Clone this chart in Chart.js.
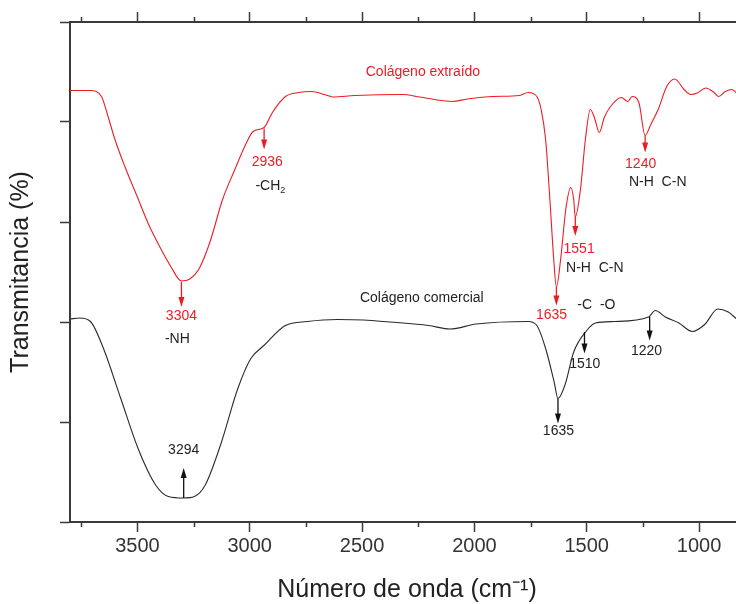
<!DOCTYPE html>
<html>
<head>
<meta charset="utf-8">
<script src="https://cdn.jsdelivr.net/npm/chart.js@4.4.1/dist/chart.umd.min.js"></script>
<style>
  html, body { margin: 0; padding: 0; background: #fff; overflow: hidden; }
  canvas { display: block; }
</style>
</head>
<body>
<canvas id="ftir" width="760" height="604"></canvas>
<script>
// espectros FTIR (numero de onda en cm-1, transmitancia relativa)
const redWave = [3800, 3710, 3660, 3630, 3600, 3555, 3500, 3450, 3400, 3350,
  3304, 3266, 3226, 3177, 3121, 3072, 3014, 2985, 2936, 2899,
  2841, 2783, 2725, 2667, 2630, 2532, 2320, 2243, 2098, 2031,
  1915, 1799, 1761, 1722, 1703, 1683, 1664, 1647, 1635, 1616,
  1593, 1571, 1558, 1551, 1528, 1506, 1484, 1466, 1444, 1422,
  1394, 1346, 1317, 1298, 1268, 1240, 1215, 1182, 1144, 1108,
  1067, 1037, 1008, 970, 931, 913, 883, 855, 819, 800];
const redTrans = [86.3, 86.3, 85.1, 81.0, 76.5, 71.0, 65.0, 59.5, 55.0, 51.0,
  48.2, 48.6, 50.6, 56.0, 64.5, 69.9, 75.9, 78.1, 78.9, 81.9,
  85.1, 85.9, 86.1, 85.5, 85.0, 85.3, 85.5, 85.0, 84.1, 84.6,
  85.1, 85.3, 85.9, 85.1, 82.5, 76.5, 64.5, 52.6, 47.0, 52.6,
  62.6, 66.9, 64.5, 61.0, 66.5, 76.5, 82.5, 80.9, 77.9, 80.9,
  83.1, 84.9, 84.1, 85.1, 83.9, 77.3, 79.5, 82.5, 87.1, 88.6,
  86.5, 85.5, 85.8, 86.8, 85.8, 85.1, 86.1, 86.5, 85.1, 84.6];

const blackWave = [3800, 3757, 3709, 3651, 3574, 3497, 3419, 3362, 3294, 3246,
  3198, 3130, 3053, 2995, 2937, 2841, 2744, 2610, 2493, 2378,
  2204, 2108, 1992, 1761, 1722, 1683, 1645, 1628, 1597, 1558,
  1500, 1461, 1375, 1225, 1195, 1150, 1090, 1030, 975, 917,
  870, 830, 800];
const blackTrans = [40.6, 40.8, 40.1, 34.7, 24.7, 14.7, 7.4, 5.1, 4.8, 5.1,
  7.4, 15.4, 26.7, 32.7, 35.3, 39.3, 40.1, 40.5, 40.4, 40.0,
  39.3, 38.6, 39.6, 40.1, 39.3, 34.7, 28.0, 24.7, 27.4, 34.0,
  38.3, 39.8, 40.1, 41.0, 42.3, 41.0, 39.8, 38.1, 39.5, 42.6,
  42.0, 40.5, 39.5];

const xTicks = [3500, 3000, 2500, 2000, 1500, 1000];
const minorTicks = [3750, 3250, 2750, 2250, 1750, 1250];

const RED = '#ec1c24';
const INK = '#222';
const AXIS = '#3a3a3a';
const FONT = "'Liberation Sans', Arial, sans-serif";

// flechas de las bandas: numero de onda, desde (curva) hasta (punta)
const marks = [
  { x: 3304, from: 48.0, to: 43.0, color: RED },
  { x: 2936, from: 78.7, to: 74.5, color: RED },
  { x: 1635, from: 47.0, to: 43.3, color: RED },
  { x: 1551, from: 61.0, to: 57.2, color: RED },
  { x: 1240, from: 77.3, to: 73.9, color: RED },
  { x: 3294, from: 4.8, to: 10.8, color: '#111' },
  { x: 1628, from: 24.7, to: 19.7, color: '#111' },
  { x: 1510, from: 38.0, to: 33.7, color: '#111' },
  { x: 1220, from: 41.0, to: 36.3, color: '#111' }
];

const notes = [
  { x: 2229, y: 90.0, text: 'Colágeno extraído', color: RED },
  { x: 2234, y: 44.8, text: 'Colágeno comercial', color: INK },
  { x: 3304, y: 41.2, text: '3304', color: RED },
  { x: 3322, y: 36.5, text: '-NH', color: INK },
  { x: 2922, y: 71.9, text: '2936', color: RED },
  { x: 2908, y: 67.1, text: '-CH', sub: '2', color: INK },
  { x: 1657, y: 41.4, text: '1635', color: RED },
  { x: 1457, y: 43.4, text: '-C  -O', color: INK },
  { x: 1534, y: 54.6, text: '1551', color: RED },
  { x: 1464, y: 50.8, text: 'N-H  C-N', color: INK },
  { x: 1260, y: 71.5, text: '1240', color: RED },
  { x: 1184, y: 67.9, text: 'N-H  C-N', color: INK },
  { x: 3294, y: 14.3, text: '3294', color: INK },
  { x: 1626, y: 18.1, text: '1635', color: INK },
  { x: 1509, y: 31.5, text: '1510', color: INK },
  { x: 1234, y: 34.1, text: '1220', color: INK }
];

const toPoints = (w, t) => w.map((v, i) => ({ x: v, y: t[i] }));

const extras = {
  id: 'extras',
  afterDatasetsDraw(chart) {
    const { ctx, chartArea: a, scales: { x, y } } = chart;
    ctx.save();

    // ticks menores arriba y abajo
    ctx.strokeStyle = AXIS;
    ctx.lineWidth = 1.5;
    minorTicks.forEach(v => {
      const px = Math.round(x.getPixelForValue(v)) + 0.5;
      ctx.beginPath();
      ctx.moveTo(px, a.bottom); ctx.lineTo(px, a.bottom + 5);
      ctx.moveTo(px, a.top); ctx.lineTo(px, a.top - 5);
      ctx.stroke();
    });

    // flechas
    marks.forEach(m => {
      const px = x.getPixelForValue(m.x);
      const y0 = y.getPixelForValue(m.from);
      const y1 = y.getPixelForValue(m.to);
      const dir = y1 > y0 ? 1 : -1;
      ctx.strokeStyle = m.color;
      ctx.fillStyle = m.color;
      ctx.lineWidth = 1.3;
      ctx.beginPath();
      ctx.moveTo(px, y0); ctx.lineTo(px, y1 - dir * 4);
      ctx.stroke();
      ctx.beginPath();
      ctx.moveTo(px, y1);
      ctx.lineTo(px - 3, y1 - dir * 10);
      ctx.lineTo(px + 3, y1 - dir * 10);
      ctx.closePath();
      ctx.fill();
    });

    // textos
    ctx.textBaseline = 'middle';
    notes.forEach(n => {
      const px = x.getPixelForValue(n.x);
      const py = y.getPixelForValue(n.y);
      ctx.fillStyle = n.color;
      ctx.font = '14px ' + FONT;
      if (n.sub) {
        const w1 = ctx.measureText(n.text).width;
        ctx.font = '9px ' + FONT;
        const w2 = ctx.measureText(n.sub).width;
        const left = px - (w1 + w2) / 2;
        ctx.textAlign = 'left';
        ctx.font = '14px ' + FONT;
        ctx.fillText(n.text, left, py);
        ctx.font = '9px ' + FONT;
        ctx.fillText(n.sub, left + w1, py + 4);
      } else {
        ctx.textAlign = 'center';
        ctx.fillText(n.text, px, py);
      }
    });
    ctx.restore();
  }
};

new Chart(document.getElementById('ftir'), {
  type: 'line',
  data: {
    datasets: [
      {
        label: 'Colágeno extraído',
        data: toPoints(redWave, redTrans),
        borderColor: RED,
        borderWidth: 1.1,
        pointRadius: 0,
        cubicInterpolationMode: 'monotone'
      },
      {
        label: 'Colágeno comercial',
        data: toPoints(blackWave, blackTrans),
        borderColor: '#2a2a2a',
        borderWidth: 1.1,
        pointRadius: 0,
        cubicInterpolationMode: 'monotone'
      }
    ]
  },
  options: {
    responsive: false,
    animation: false,
    devicePixelRatio: 1,
    layout: { padding: { left: 0, right: 6, top: 12, bottom: 0 } },
    plugins: { legend: { display: false }, tooltip: { enabled: false } },
    scales: {
      x: {
        type: 'linear',
        position: 'bottom',
        reverse: true,
        min: 800,
        max: 3800,
        afterBuildTicks: s => { s.ticks = xTicks.map(v => ({ value: v })); },
        ticks: {
          color: '#333',
          font: { family: FONT, size: 20 },
          padding: 2,
          maxRotation: 0,
          callback: v => String(v)
        },
        grid: { drawOnChartArea: false, tickLength: 10, tickColor: AXIS, tickWidth: 1.5 },
        border: { color: AXIS, width: 2 },
        title: {
          display: true,
          text: 'Número de onda (cm⁻¹)',
          color: INK,
          font: { family: FONT, size: 25, lineHeight: 1.1 },
          padding: { top: 16.5, bottom: 0 }
        }
      },
      xTop: {
        type: 'linear',
        position: 'top',
        reverse: true,
        min: 800,
        max: 3800,
        afterBuildTicks: s => { s.ticks = xTicks.map(v => ({ value: v })); },
        ticks: { display: false },
        grid: { drawOnChartArea: false, tickLength: 10, tickColor: AXIS, tickWidth: 1.5 },
        border: { color: AXIS, width: 2 }
      },
      y: {
        position: 'left',
        min: 0,
        max: 100,
        ticks: { display: false, stepSize: 20 },
        grid: { drawOnChartArea: false, tickLength: 10, tickColor: AXIS, tickWidth: 1.5 },
        border: { color: AXIS, width: 2 },
        title: {
          display: true,
          text: 'Transmitancia (%)',
          color: INK,
          font: { family: FONT, size: 25, lineHeight: 1.1 },
          padding: { top: 7.25, bottom: 25.25 }
        }
      },
      yRight: {
        position: 'right',
        min: 0,
        max: 100,
        ticks: { display: false, stepSize: 20 },
        grid: { drawOnChartArea: false, tickLength: 10, tickColor: AXIS, tickWidth: 1.5 },
        border: { color: AXIS, width: 2 }
      }
    }
  },
  plugins: [extras]
});
</script>
</body>
</html>
